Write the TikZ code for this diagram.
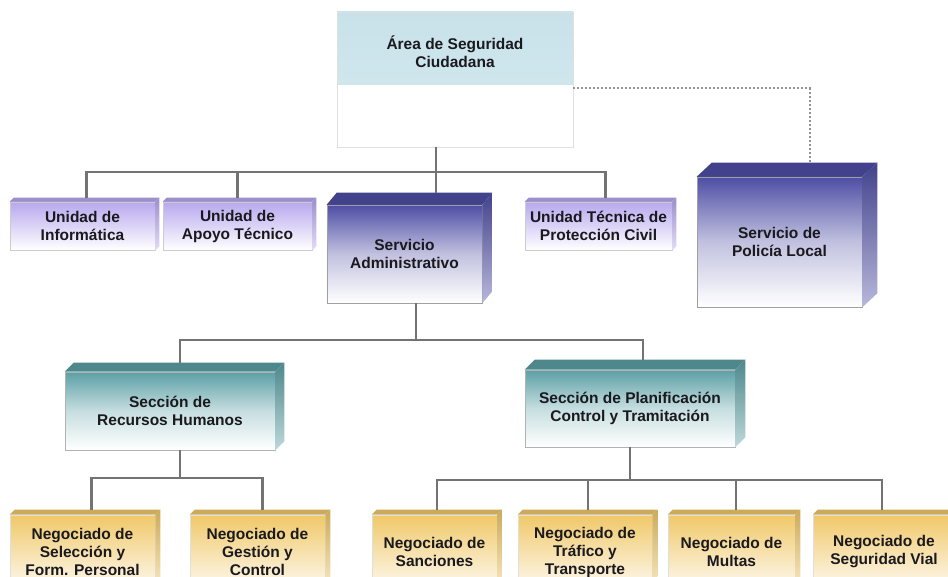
\documentclass[tikz,border=0pt]{standalone}
\usepackage{fontspec}
\setmainfont{Liberation Sans}
\usetikzlibrary{calc}

\definecolor{lavanda}{RGB}{184,168,238}
\definecolor{azuloscuro}{RGB}{78,78,165}
\definecolor{verdeazul}{RGB}{92,160,165}
\definecolor{amarillo}{RGB}{240,200,105}
\definecolor{celeste}{RGB}{200,226,234}
\definecolor{linea}{RGB}{115,115,115}
\definecolor{texto}{RGB}{25,25,30}

\tikzset{
  caja/.style={rectangle, align=center, text=texto, inner sep=2pt,
    font=\fontsize{15.5}{18}\selectfont\bfseries, draw=gray!40, line width=0.6pt},
  area/.style={caja, fill=white, draw=gray!25, minimum width=236pt, minimum height=135pt,
    path picture={\shade[top color=celeste, bottom color=celeste!75]
      (path picture bounding box.north west) rectangle ([yshift=-73pt]path picture bounding box.north east);}},
  unidad/.style={caja, top color=lavanda, bottom color=white, minimum height=48pt},
  servicio/.style={caja, top color=azuloscuro, bottom color=white, middle color=azuloscuro!35, draw=gray!75},
  seccion/.style={caja, top color=verdeazul, bottom color=white, middle color=verdeazul!35, draw=gray!60},
  negociado/.style={caja, top color=amarillo, bottom color=amarillo!10, minimum height=74pt, draw=gray!25},
  conector/.style={draw=linea, line width=2.2pt},
  punteado/.style={draw=gray!85, line width=2pt, dash pattern=on 2pt off 2pt},
}

% caras superior y lateral de las cajas
\newcommand\relieve[4]{%
  \fill[#4!85!black] (#1.north west) -- ++(#2,#3) -- ([shift={(#2,#3)}]#1.north east) -- (#1.north east) -- cycle;
  \shade[top color=#4!85!black, bottom color=#4!40] (#1.north east) -- ([shift={(#2,#3)}]#1.north east)
    -- ([shift={(#2,#3)}]#1.south east) -- (#1.south east) -- cycle;
}

\begin{document}
\begin{tikzpicture}[x=1pt,y=-1pt]
  \useasboundingbox (0,0) rectangle (948,577);
  \clip (0,0) rectangle (948,577);

  \node[area, label={[caja, draw=none, anchor=north, yshift=-22pt]north:{Área de Seguridad\\Ciudadana}}]
    (area) at (455,79.5) {};

  \node[unidad, minimum width=145pt]   (inf)     at (82.5,226)  {Unidad de\\Informática};
  \node[unidad, minimum width=149pt]   (apoyo)   at (237.5,226) {Unidad de\\Apoyo Técnico};
  \node[servicio, minimum width=155pt, minimum height=98pt]  (adm)     at (404.5,254) {Servicio\\Administrativo};
  \node[unidad, minimum width=147pt]   (civil)   at (598.5,226) {Unidad Técnica de\\Protección Civil};
  \node[servicio, minimum width=165pt, minimum height=130pt] (policia) at (779.5,242) {Servicio de\\Policía Local};

  \node[seccion, minimum width=210pt, minimum height=78pt] (rrhh) at (170,411)   {Sección de\\Recursos Humanos};
  \node[seccion, minimum width=210pt, minimum height=77pt] (plan) at (630,408.5) {Sección de Planificación\\Control y Tramitación};

  \node[negociado, minimum width=145pt] (sel)    at (82.5,552)  {Negociado de\\Selección y\\Form. Personal};
  \node[negociado, minimum width=135pt] (gest)   at (257.5,552) {Negociado de\\Gestión y\\Control};
  \node[negociado, minimum width=125pt] (sanc)   at (434.5,552) {Negociado de\\Sanciones};
  \node[negociado, minimum width=134pt] (traf)   at (585,552)   {Negociado de\\Tráfico y\\Transporte};
  \node[negociado, minimum width=127pt] (multas) at (731.5,552) {Negociado de\\Multas};
  \node[negociado, minimum width=142pt] (vial)   at (884,552)   {Negociado de\\Seguridad Vial};

  \foreach \n/\d/\c in {inf/4pt/lavanda, apoyo/4pt/lavanda, civil/4pt/lavanda,
                        sel/5pt/amarillo, gest/5pt/amarillo, sanc/5pt/amarillo,
                        traf/5pt/amarillo, multas/5pt/amarillo, vial/5pt/amarillo,
                        rrhh/9pt/verdeazul, plan/10pt/verdeazul}
    {\relieve{\n}{\d}{\d}{\c}}
  \relieve{adm}{10pt}{12pt}{azuloscuro}
  \relieve{policia}{15pt}{14pt}{azuloscuro}

  % primer nivel
  \coordinate (b1) at (436,172);
  \draw[conector] (area.south -| b1) -- ([yshift=12pt]adm.north -| b1);
  \draw[conector] ([xshift=4pt,yshift=4pt]inf.north) |- (b1) -| ([xshift=7pt,yshift=4pt]civil.north);
  \draw[conector] ([yshift=4pt]apoyo.north) -- (apoyo.north |- b1);
  \draw[punteado] ([yshift=-9pt]area.east) -| ([xshift=30pt,yshift=14pt]policia.north);

  % segundo nivel
  \coordinate (b2) at (416,340);
  \draw[conector] (adm.south -| b2) -- (b2);
  \draw[conector] ([xshift=10pt,yshift=9pt]rrhh.north) |- (b2) -| ([xshift=13pt,yshift=10pt]plan.north);

  % negociados
  \coordinate (b3) at (180,478);
  \draw[conector] ([xshift=10pt]rrhh.south) -- (b3);
  \draw[conector] ([xshift=9pt,yshift=5pt]sel.north) |- (b3) -| ([xshift=5pt,yshift=5pt]gest.north);

  \coordinate (b4) at (630,480);
  \draw[conector] (plan.south) -- (b4);
  \draw[conector] ([xshift=2.5pt,yshift=5pt]sanc.north) |- (b4) -| ([xshift=-2pt,yshift=5pt]vial.north);
  \draw[conector] ([xshift=3pt,yshift=5pt]traf.north) -- ([xshift=3pt]traf.north |- b4);
  \draw[conector] ([xshift=4.5pt,yshift=5pt]multas.north) -- ([xshift=4.5pt]multas.north |- b4);
\end{tikzpicture}
\end{document}
